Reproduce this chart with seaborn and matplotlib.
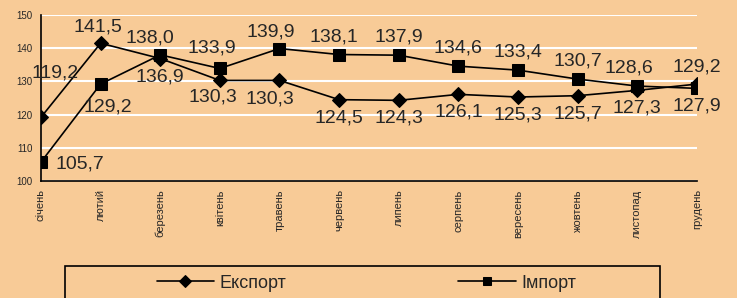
import pandas as pd
import seaborn as sns
import matplotlib.pyplot as plt
from matplotlib.patches import Rectangle

# Data
months = ['січень', 'лютий', 'березень', 'квітень', 'травень', 'червень',
          'липень', 'серпень', 'вересень', 'жовтень', 'листопад', 'грудень']
export = [119.2, 141.5, 136.9, 130.3, 130.3, 124.5, 124.3, 126.1, 125.3, 125.7, 127.3, 129.2]
imports = [105.7, 129.2, 138.0, 133.9, 139.9, 138.1, 137.9, 134.6, 133.4, 130.7, 128.6, 127.9]

bg = '#F8CB97'

sns.set_style('white')
plt.rcParams['font.family'] = ['Liberation Sans', 'DejaVu Sans']

df = pd.DataFrame({'idx': range(len(months)), 'Експорт': export, 'Імпорт': imports})

fig = plt.figure(figsize=(7.37, 2.98), dpi=100, facecolor=bg)
ax = fig.add_axes([0.0556, 0.3926, 0.89, 0.557])
ax.set_facecolor(bg)

sns.lineplot(data=df, x='idx', y='Експорт', ax=ax, color='black', lw=1.2,
             marker='D', markersize=7.5, markeredgecolor='black', label='Експорт')
sns.lineplot(data=df, x='idx', y='Імпорт', ax=ax, color='black', lw=1.2,
             marker='s', markersize=8, markeredgecolor='black', label='Імпорт')

ax.set_xlim(0, len(months) - 1)
ax.set_ylim(100, 150)
ax.set_yticks(range(100, 151, 10))
ax.set_xticks(range(len(months)))
ax.set_xticklabels(months, rotation=90, fontsize=8)
ax.tick_params(axis='y', labelsize=7, length=4, width=1, direction='out', pad=2)
ax.tick_params(axis='x', length=4, width=1, direction='out', pad=2)
ax.set_xlabel('')
ax.set_ylabel('')
ax.set_axisbelow(True)
ax.yaxis.grid(True, color='white', lw=1.5)
ax.xaxis.grid(False)
for s in ['top', 'right']:
    ax.spines[s].set_visible(False)
for s in ['left', 'bottom']:
    ax.spines[s].set_color('black')
    ax.spines[s].set_linewidth(1.2)

# data labels: export below, import above, with a few manual moves
exp_off = {0: (14, 44), 1: (-3, 16), 3: (-7, -17), 4: (-10, -19), 11: (0, 17)}
imp_off = {0: (39, -2), 1: (7, -23), 2: (-10, 17), 3: (-8, 20), 4: (-9, 17),
           5: (-5, 18), 10: (-8, 18), 11: (0, -18)}
for i, v in enumerate(export):
    dx, dy = exp_off.get(i, (0, -18))
    ax.annotate(f'{v:.1f}'.replace('.', ','), (i, v), xytext=(dx, dy),
                textcoords='offset pixels', ha='center', va='center',
                fontsize=14, annotation_clip=False)
for i, v in enumerate(imports):
    dx, dy = imp_off.get(i, (0, 18))
    ax.annotate(f'{v:.1f}'.replace('.', ','), (i, v), xytext=(dx, dy),
                textcoords='offset pixels', ha='center', va='center',
                fontsize=14, annotation_clip=False)

# legend below the plot inside a black box
handles, labels = ax.get_legend_handles_labels()
ax.get_legend().remove()
fig.legend(handles, labels, loc='center', bbox_to_anchor=(0.497, 0.05), ncol=2,
           frameon=False, fontsize=13, handlelength=3.2, handletextpad=0.3,
           columnspacing=9.5, markerscale=0.75)
fig.patches.append(Rectangle((0.088, -0.02), 0.808, 0.127, transform=fig.transFigure,
                             fill=False, edgecolor='black', lw=1.2))

fig.savefig('out.png', dpi=100, facecolor=bg)
